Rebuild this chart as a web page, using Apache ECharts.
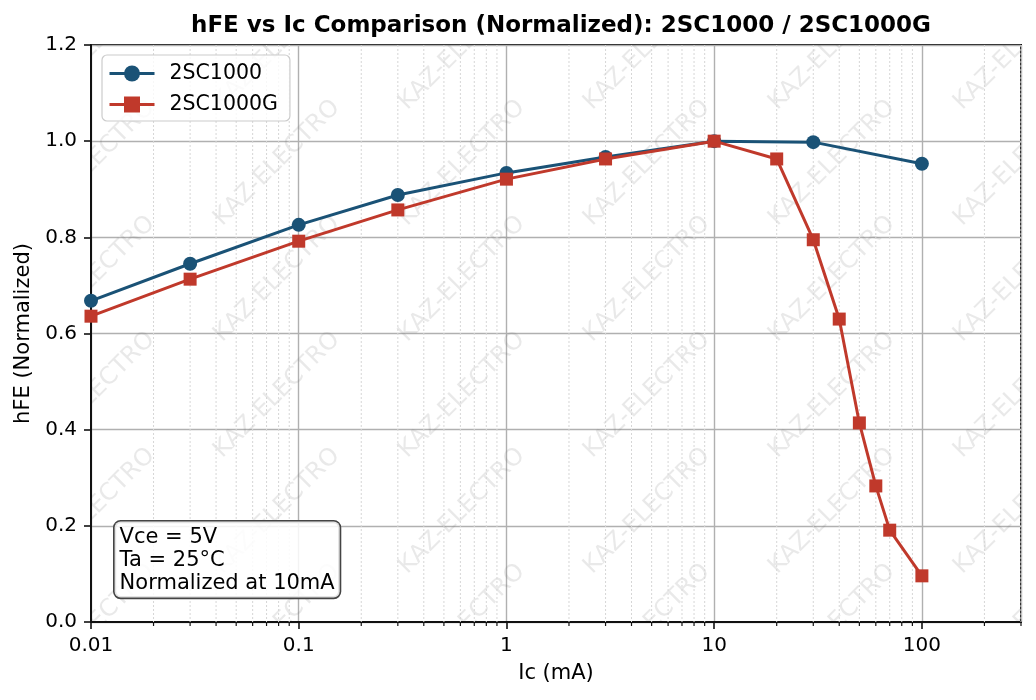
<!DOCTYPE html>
<html>
<head>
<meta charset="utf-8">
<script src="https://cdn.jsdelivr.net/npm/echarts@6/dist/echarts.min.js"></script>
<style>html,body{margin:0;padding:0;background:#fff}#c{width:1036px;height:700px}</style>
</head>
<body>
<div id="c"></div>
<script>
// ---- data ----
const ic1 = [0.01, 0.03, 0.1, 0.3, 1, 3, 10, 30, 100];
const hfe1 = [0.668, 0.745, 0.826, 0.888, 0.934, 0.967, 1.0, 0.998, 0.953];
const ic2 = [0.01, 0.03, 0.1, 0.3, 1, 3, 10, 20, 30, 40, 50, 60, 70, 100];
const hfe2 = [0.636, 0.713, 0.792, 0.857, 0.921, 0.963, 1.0, 0.963, 0.795, 0.630, 0.414, 0.283, 0.191, 0.096];
const seriesNames = ['2SC1000', '2SC1000G'];
const xTickLabels = [0.01, 0.1, 1, 10, 100];
const yTicks = [0, 0.2, 0.4, 0.6, 0.8, 1.0, 1.2];
const titleText = 'hFE vs Ic Comparison (Normalized): 2SC1000 / 2SC1000G';
const xName = 'Ic (mA)';
const yName = 'hFE (Normalized)';
const noteText = 'Vce = 5V\nTa = 25°C\nNormalized at 10mA';
const watermark = 'KAZ-ELECTRO';

// minor tick positions (2..9 x each decade)
const minorTicks = [];
for (let e = -2; e <= 2; e++) {
  for (let m = 2; m <= 9; m++) {
    const v = m * Math.pow(10, e);
    if (v <= 300.0001) minorTicks.push(+v.toPrecision(6));
  }
}

const FONT = 'DejaVu Sans';
const chart = echarts.init(document.getElementById('c'), null, {renderer: 'canvas'});

function fmtX(v) {
  const l = Math.log10(v);
  if (Math.abs(l - Math.round(l)) > 1e-6) return '';
  return String(+v.toPrecision(6));
}

const option = {
  backgroundColor: '#fff',
  animation: false,
  textStyle: {fontFamily: FONT},
  title: {
    text: titleText,
    left: 556, top: 10, textAlign: 'center',
    textStyle: {fontFamily: FONT, fontWeight: 'bold', fontSize: 23, color: '#000'}
  },
  grid: {
    left: 91, right: 15, top: 45, bottom: 78,
    show: true, borderColor: '#111', borderWidth: 2, backgroundColor: 'transparent'
  },
  legend: {
    data: seriesNames,
    orient: 'vertical',
    left: 102, top: 55,
    padding: [8, 12, 6, 6],
    itemGap: 10,
    itemWidth: 45, itemHeight: 20,
    lineStyle: {width: 3},
    backgroundColor: 'rgba(255,255,255,0.8)',
    borderColor: '#cccccc', borderWidth: 1.2, borderRadius: 5,
    textStyle: {fontFamily: FONT, fontSize: 20.5, color: '#000', padding: [0, 0, 0, 10]}
  },
  xAxis: {
    type: 'log', logBase: 10, min: 0.01, max: 300,
    name: xName, nameLocation: 'middle', nameGap: 41,
    nameTextStyle: {fontFamily: FONT, fontSize: 21, color: '#000'},
    axisLine: {show: true, onZero: false, lineStyle: {color: '#111', width: 2}},
    axisTick: {show: true, inside: false, length: 7, lineStyle: {color: '#111', width: 1.6}},
    axisLabel: {fontFamily: FONT, fontSize: 20, color: '#000', margin: 14, formatter: fmtX, showMaxLabel: false},
    splitLine: {show: true, lineStyle: {color: '#b0b0b0', width: 1.4}},
    minorTick: {show: false}, minorSplitLine: {show: false}
  },
  yAxis: {
    type: 'value', min: 0, max: 1.2, interval: 0.2,
    name: yName, nameLocation: 'middle', nameGap: 56,
    nameTextStyle: {fontFamily: FONT, fontSize: 21, color: '#000'},
    axisLine: {show: true, onZero: false, lineStyle: {color: '#111', width: 2}},
    axisTick: {show: true, inside: false, length: 7, lineStyle: {color: '#111', width: 1.6}},
    axisLabel: {fontFamily: FONT, fontSize: 20, color: '#000', margin: 14, formatter: v => v.toFixed(1)},
    splitLine: {show: true, lineStyle: {color: '#b0b0b0', width: 1.4}}
  },
  graphic: [{
    type: 'text', left: 113, top: 520, z: 100,
    style: {
      text: noteText, fontFamily: FONT, fontSize: 21, lineHeight: 23, fill: '#000',
      backgroundColor: 'rgba(255,255,255,0.85)', borderColor: '#444', borderWidth: 1.6,
      borderRadius: 6, padding: [4, 5, 3, 5]
    }
  }],
  series: [
    {
      type: 'custom', name: '_wm', silent: true, z: 0, clip: true,
      data: [[0.01, 0]],
      renderItem: function (params, api) {
        const cs = params.coordSys;
        const children = [];
        for (let i = 0; i < 6; i++) {
          for (let j = 0; j < 6; j++) {
            children.push({
              type: 'text',
              x: 92 + 185 * i, y: 47 + 116 * j,
              rotation: Math.PI / 4,
              style: {
                text: watermark, fontFamily: FONT, fontSize: 24,
                fill: 'rgba(120,120,120,0.16)', align: 'center', verticalAlign: 'middle'
              }
            });
          }
        }
        return {
          type: 'group', children: children,
          clipPath: {type: 'rect', shape: {x: cs.x, y: cs.y, width: cs.width, height: cs.height}}
        };
      }
    },
    {
      type: 'custom', name: '_minor', silent: true, z: 1, clip: false,
      data: minorTicks.map(v => [v, 0]),
      renderItem: function (params, api) {
        const cs = params.coordSys;
        const x = api.coord([api.value(0), 0])[0];
        const bottom = cs.y + cs.height;
        return {
          type: 'group', children: [
            {type: 'line', shape: {x1: x, y1: cs.y, x2: x, y2: bottom},
             style: {stroke: '#d6d6d6', lineWidth: 1, lineDash: [2, 2]}},
            {type: 'line', shape: {x1: x, y1: bottom, x2: x, y2: bottom + 4},
             style: {stroke: '#111', lineWidth: 1.2}}
          ]
        };
      }
    },
    {
      name: seriesNames[0], type: 'line', z: 5,
      data: ic1.map((x, i) => [x, hfe1[i]]),
      symbol: 'circle', symbolSize: 14,
      itemStyle: {color: '#1a5276'},
      lineStyle: {color: '#1a5276', width: 3},
      clip: false
    },
    {
      name: seriesNames[1], type: 'line', z: 6,
      data: ic2.map((x, i) => [x, hfe2[i]]),
      symbol: 'rect', symbolSize: 13,
      itemStyle: {color: '#c0392b'},
      lineStyle: {color: '#c0392b', width: 3},
      clip: false
    }
  ]
};
chart.setOption(option);
</script>
</body>
</html>
